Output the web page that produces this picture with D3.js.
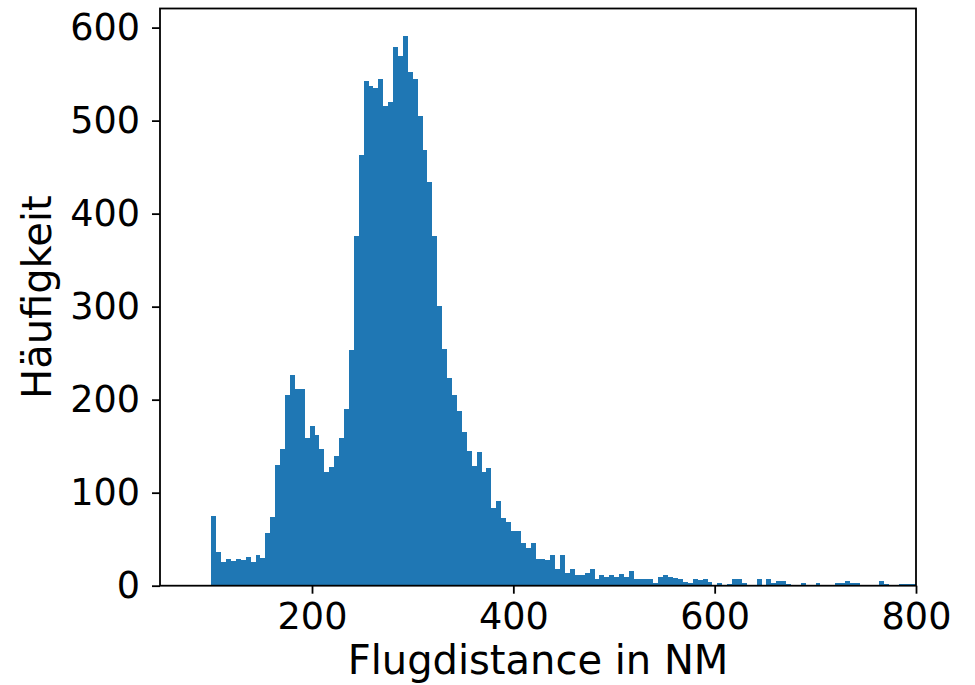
<!DOCTYPE html>
<html>
<head>
<meta charset="utf-8">
<script src="https://cdn.jsdelivr.net/npm/d3@7"></script>
<style>
  body { margin: 0; background: #fff; }
  text { font-family: "DejaVu Sans", sans-serif; fill: #000; }
</style>
</head>
<body>
<div id="chart"></div>
<script>
// Histogram of flight distances (bins start at 100 NM)
const binStart = 100;
const binWidth = 4.88;
const counts = [
  75, 36, 25, 29, 27, 29, 28, 31, 25, 33,
  30, 57, 74, 130, 147, 205, 227, 211, 211, 159,
  172, 162, 147, 122, 128, 139, 159, 190, 253, 376,
  463, 543, 537, 535, 545, 516, 520, 579, 569, 591,
  552, 545, 505, 468, 434, 376, 301, 255, 223, 205,
  188, 165, 145, 129, 144, 122, 127, 84, 91, 73,
  69, 59, 59, 46, 40, 46, 29, 29, 28, 33,
  18, 33, 14, 18, 12, 12, 14, 18, 7, 11,
  9, 11, 9, 13, 9, 16, 7, 7, 7, 7,
  3, 9, 11, 9, 8, 7, 4, 3, 7, 6,
  7, 4, 1, 3, 1, 2, 7, 7, 3, 1,
  1, 7, 0, 7, 3, 5, 5, 2, 1, 1,
  3, 1, 1, 3, 1, 1, 1, 3, 3, 5,
  3, 3, 1, 1, 1, 1, 5, 2, 1, 1,
  2, 2, 2, 2
];
const xTicks = [200, 400, 600, 800];
const yTicks = [0, 100, 200, 300, 400, 500, 600];
const xLabel = "Flugdistance in NM";
const yLabel = "Häufigkeit";

const bins = counts.map((c, i) => ({
  x0: binStart + i * binWidth,
  x1: binStart + (i + 1) * binWidth,
  count: c
}));

const totalWidth = 975, totalHeight = 685;
const margin = {top: 8.5, right: 59, bottom: 99.3, left: 160};
const width = totalWidth - margin.left - margin.right;
const height = totalHeight - margin.top - margin.bottom;

const svg = d3.select("#chart")
    .append("svg")
    .attr("width", totalWidth)
    .attr("height", totalHeight);

const g = svg.append("g")
    .attr("transform", `translate(${margin.left},${margin.top})`);

const x = d3.scaleLinear()
    .domain([49, 800])
    .range([0, width]);

const y = d3.scaleLinear()
    .domain([0, d3.max(counts) * 1.05])
    .range([height, 0]);

// clip so the last bin stops at the right spine
g.append("clipPath")
    .attr("id", "plot-clip")
    .append("rect")
    .attr("width", width)
    .attr("height", height);

g.append("g")
    .attr("clip-path", "url(#plot-clip)")
    .selectAll("rect")
    .data(bins)
    .join("rect")
    .attr("x", d => x(d.x0))
    .attr("y", d => y(d.count))
    .attr("width", d => x(d.x1) - x(d.x0))
    .attr("height", d => y(0) - y(d.count))
    .attr("fill", "#1f77b4")
    .attr("shape-rendering", "crispEdges");

// axes
const xAxis = d3.axisBottom(x)
    .tickValues(xTicks)
    .tickSize(8)
    .tickPadding(9);

const yAxis = d3.axisLeft(y)
    .tickValues(yTicks)
    .tickSize(8)
    .tickPadding(12);

const xAxisGroup = g.append("g")
    .attr("transform", `translate(0,${height})`)
    .call(xAxis);

const yAxisGroup = g.append("g")
    .call(yAxis);

[xAxisGroup, yAxisGroup].forEach(ax => {
    ax.select(".domain").remove();
    ax.selectAll(".tick line").attr("stroke", "#000").attr("stroke-width", 1.8);
    ax.selectAll(".tick text")
        .attr("font-family", "DejaVu Sans, sans-serif")
        .attr("font-size", 36.6)
        .attr("fill", "#000");
});

// frame (spines)
g.append("rect")
    .attr("width", width)
    .attr("height", height)
    .attr("fill", "none")
    .attr("stroke", "#000")
    .attr("stroke-width", 1.8);

// axis labels
svg.append("text")
    .attr("x", margin.left + width / 2)
    .attr("y", 674)
    .attr("text-anchor", "middle")
    .attr("font-size", 40)
    .text(xLabel);

svg.append("text")
    .attr("transform", `translate(51,${margin.top + height / 2}) rotate(-90)`)
    .attr("text-anchor", "middle")
    .attr("font-size", 40)
    .text(yLabel);
</script>
</body>
</html>
